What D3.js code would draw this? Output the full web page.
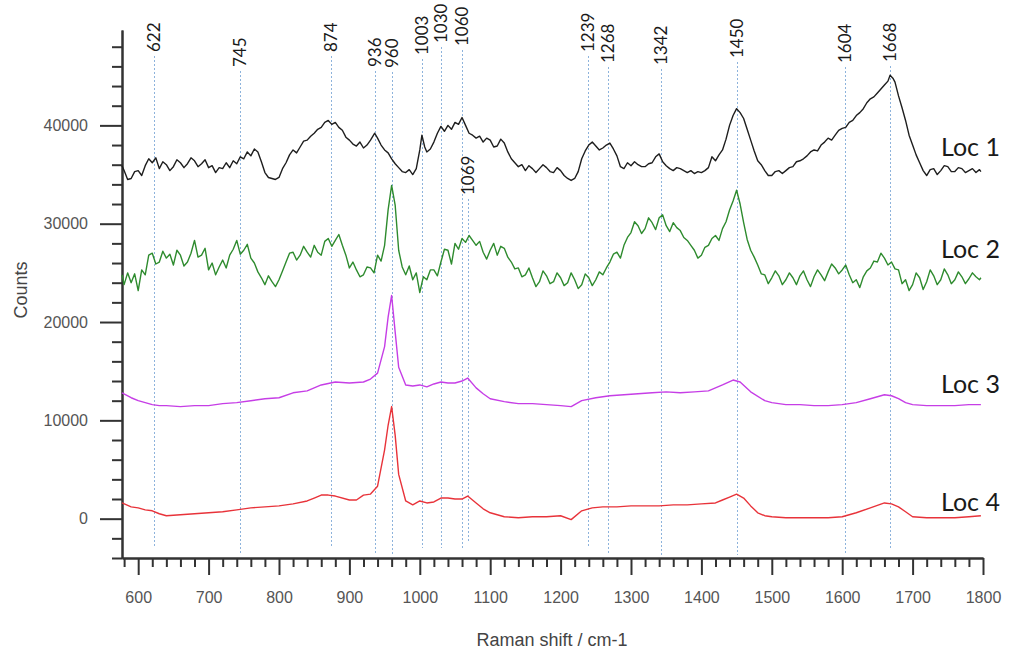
<!DOCTYPE html>
<html>
<head>
<meta charset="utf-8">
<script src="https://cdn.jsdelivr.net/npm/d3@7"></script>
<style>
  body { margin: 0; background: #fff; }
  svg { display: block; }
</style>
</head>
<body>
<svg></svg>
<script>
// SVG
var width = 1010;
var height = 654;

// Data: Raman spectra, [shift cm-1, counts]
var loc1 = [[577,35900],[580,35400],[585,34500],[590,34600],[595,35300],[600,35400],[605,34900],[610,35900],[615,36600],[620,36200],[625,36700],[630,35600],[635,36300],[640,36000],[645,35400],[650,35800],[655,36500],[660,36200],[665,35700],[670,36100],[675,36700],[680,36400],[685,35800],[690,36100],[695,36500],[700,35700],[705,35900],[710,35200],[715,35700],[720,35600],[725,36200],[730,35700],[735,36400],[740,36100],[745,36800],[750,36600],[755,37300],[760,36900],[765,37600],[770,37300],[775,36300],[780,35200],[785,34700],[790,34600],[795,34500],[800,34700],[805,35600],[810,36200],[815,37000],[820,37500],[825,37200],[830,37800],[835,38400],[840,38500],[845,38900],[850,39200],[855,39600],[860,39800],[865,40300],[870,40500],[875,40100],[880,40300],[885,39800],[890,39500],[895,38800],[900,38500],[905,38100],[910,37900],[915,38300],[920,37700],[925,38000],[930,38500],[936,39200],[940,38700],[945,38000],[950,37500],[955,37200],[960,36600],[965,36100],[970,35700],[975,35300],[980,35200],[985,35500],[990,35000],[995,35600],[1000,37500],[1003,39000],[1007,37800],[1010,37300],[1015,37600],[1020,38300],[1025,39200],[1030,39900],[1035,39400],[1040,40000],[1045,39600],[1050,40300],[1055,40100],[1060,40800],[1065,40000],[1070,39200],[1075,39000],[1080,38700],[1085,38900],[1090,38300],[1095,38700],[1100,38500],[1105,37800],[1110,37900],[1115,38600],[1120,38200],[1125,37300],[1130,36600],[1135,36200],[1140,35800],[1145,36000],[1150,35400],[1155,35900],[1160,35600],[1165,35200],[1170,35600],[1175,36000],[1180,35700],[1185,35300],[1190,35200],[1195,35700],[1200,35400],[1205,34900],[1210,34600],[1215,34400],[1220,34600],[1225,35300],[1230,36600],[1235,37400],[1240,38000],[1245,38300],[1250,37900],[1255,37500],[1260,37700],[1265,38000],[1270,38200],[1275,37600],[1280,36900],[1285,35800],[1290,35600],[1295,36200],[1300,35900],[1305,36300],[1310,36000],[1315,35800],[1320,35800],[1325,36100],[1330,36200],[1335,36800],[1340,37100],[1345,36300],[1350,35900],[1355,35600],[1360,35400],[1365,35700],[1370,35600],[1375,35400],[1380,35200],[1385,35400],[1390,35100],[1395,35300],[1400,35200],[1405,35400],[1410,35700],[1415,36800],[1420,36400],[1425,37000],[1430,37500],[1435,38600],[1440,40000],[1445,41000],[1450,41700],[1455,41300],[1460,40700],[1465,39600],[1470,38500],[1475,37400],[1480,36400],[1485,36000],[1490,35400],[1495,34900],[1500,34900],[1505,35300],[1510,35400],[1515,35100],[1520,35400],[1525,35700],[1530,35800],[1535,36300],[1540,36400],[1545,36600],[1550,36900],[1555,37300],[1560,37500],[1565,37400],[1570,38000],[1575,38300],[1580,38700],[1585,38500],[1590,39000],[1595,39500],[1600,39700],[1605,39800],[1610,40300],[1615,40500],[1620,41000],[1625,41300],[1630,41700],[1635,42300],[1640,42700],[1645,42900],[1650,43300],[1655,43700],[1660,44100],[1665,44500],[1668,45100],[1672,44800],[1675,44400],[1680,43000],[1685,41800],[1690,40500],[1695,39000],[1700,38000],[1705,37000],[1710,36200],[1715,35400],[1720,34900],[1725,35500],[1730,35600],[1735,35000],[1740,35400],[1745,35900],[1750,35800],[1755,35300],[1760,35300],[1765,35700],[1770,35600],[1775,35200],[1780,35400],[1785,35600],[1790,35200],[1795,35500],[1797,35300]];

var loc2 = [[577,24800],[580,23800],[585,25000],[590,24000],[595,24900],[600,23200],[605,25300],[610,24800],[615,26800],[620,27000],[625,25900],[630,26100],[635,27200],[640,26500],[645,26900],[650,25800],[655,27300],[660,26800],[665,25700],[670,26100],[675,27000],[680,28300],[685,26600],[690,26800],[695,27500],[700,25300],[705,26000],[710,24800],[715,25600],[720,26300],[725,25500],[730,26800],[735,27400],[740,28300],[745,26900],[750,27300],[755,27900],[760,26500],[765,26000],[770,25100],[775,24500],[780,23800],[785,24700],[790,24100],[795,23600],[800,24300],[805,25200],[810,26100],[815,27000],[820,27100],[825,26300],[830,26800],[835,27700],[840,27100],[845,26600],[850,27800],[855,27100],[860,26800],[865,28200],[870,28500],[875,27700],[880,28300],[885,28900],[890,27800],[895,26800],[900,25500],[905,26100],[910,25300],[915,24600],[920,24800],[925,25600],[930,25500],[935,25000],[940,26800],[945,26200],[950,27800],[955,31400],[960,33900],[965,31900],[970,27300],[975,25600],[980,24800],[985,25700],[990,24300],[995,25000],[1000,23000],[1005,24600],[1010,24300],[1015,25300],[1020,25300],[1025,24700],[1030,26100],[1035,27400],[1040,27300],[1045,25900],[1050,28000],[1055,27400],[1060,28500],[1065,28100],[1070,28800],[1075,28300],[1080,27800],[1085,28200],[1090,27100],[1095,26400],[1100,27300],[1105,28000],[1110,26800],[1115,27700],[1120,27500],[1125,26600],[1130,26100],[1135,25400],[1140,25500],[1145,24600],[1150,24800],[1155,25500],[1160,24500],[1165,23600],[1170,24100],[1175,25200],[1180,24700],[1185,23900],[1190,24100],[1195,25000],[1200,24500],[1205,23700],[1210,24000],[1215,25000],[1220,24300],[1225,23400],[1230,23800],[1235,24900],[1240,24500],[1245,23700],[1250,24300],[1255,25100],[1260,24800],[1265,25500],[1270,26100],[1275,26900],[1280,27100],[1285,26500],[1290,27800],[1295,28600],[1300,29100],[1305,30200],[1310,29800],[1315,29000],[1320,29500],[1325,30600],[1330,30100],[1335,29400],[1340,30600],[1345,30900],[1350,29800],[1355,29200],[1360,30100],[1365,29600],[1370,29300],[1375,28600],[1380,28300],[1385,27800],[1390,27300],[1395,26500],[1400,26800],[1405,27600],[1410,27800],[1415,28500],[1420,28800],[1425,28300],[1430,29500],[1435,30200],[1440,31400],[1445,32300],[1450,33400],[1455,32000],[1460,30100],[1465,28400],[1470,27300],[1475,26600],[1480,25800],[1485,24900],[1490,24800],[1495,23900],[1500,24500],[1505,25200],[1510,24700],[1515,23800],[1520,24300],[1525,25000],[1530,24500],[1535,23800],[1540,24700],[1545,25200],[1550,24300],[1555,23600],[1560,24600],[1565,25300],[1570,24800],[1575,24200],[1580,25100],[1585,25900],[1590,25500],[1595,24900],[1600,25300],[1605,25800],[1610,24800],[1615,24000],[1620,24300],[1625,23500],[1630,24600],[1635,25200],[1640,25500],[1645,26200],[1650,26100],[1655,27000],[1660,26500],[1665,25800],[1670,26100],[1675,25400],[1680,25300],[1685,23900],[1690,24300],[1695,23200],[1700,23800],[1705,25000],[1710,24500],[1715,23300],[1720,24100],[1725,25300],[1730,24700],[1735,23800],[1740,24300],[1745,25400],[1750,24800],[1755,23900],[1760,24300],[1765,25100],[1770,24600],[1775,23900],[1780,24400],[1785,25000],[1790,24600],[1795,24300],[1797,24500]];

var loc3 = [[577,12800],[590,12300],[600,12000],[610,11800],[620,11600],[630,11500],[640,11500],[660,11400],[680,11500],[700,11500],[720,11700],[740,11800],[760,12000],[780,12200],[800,12300],[820,12800],[840,13000],[860,13600],[880,13900],[900,13800],[920,13900],[930,14200],[940,14800],[950,17500],[955,20500],[960,22700],[965,19000],[970,15400],[980,13600],[990,13500],[1000,13600],[1010,13400],[1020,13700],[1030,13900],[1040,13800],[1050,13800],[1060,14000],[1068,14300],[1080,13300],[1090,12700],[1100,12200],[1120,11900],[1140,11700],[1160,11700],[1180,11600],[1200,11500],[1215,11400],[1230,12000],[1250,12300],[1270,12500],[1290,12600],[1310,12700],[1330,12800],[1350,12900],[1370,12800],[1390,12900],[1410,13000],[1430,13600],[1445,14100],[1455,13900],[1470,12900],[1490,12000],[1500,11800],[1520,11600],[1540,11600],[1560,11500],[1580,11500],[1600,11600],[1620,11800],[1640,12200],[1660,12600],[1670,12500],[1680,12200],[1690,11800],[1700,11600],[1720,11500],[1740,11500],[1760,11500],[1780,11600],[1797,11600]];

var loc4 = [[577,1600],[590,1200],[600,1100],[610,900],[620,800],[630,500],[640,300],[660,400],[680,500],[700,600],[720,700],[740,900],[760,1100],[780,1200],[800,1300],[820,1500],[840,1800],[850,2100],[860,2400],[870,2400],[880,2300],[900,1900],[910,1900],[920,2400],[930,2500],[940,3300],[950,7000],[955,9500],[960,11400],[965,8500],[970,4500],[980,1800],[990,1400],[1000,1800],[1010,1600],[1020,1700],[1030,2100],[1040,2100],[1050,2000],[1060,2000],[1068,2300],[1080,1600],[1090,1000],[1100,600],[1110,400],[1120,200],[1140,100],[1160,200],[1180,200],[1200,300],[1215,-100],[1230,800],[1245,1100],[1260,1200],[1280,1200],[1300,1300],[1320,1300],[1340,1300],[1360,1400],[1380,1400],[1400,1500],[1420,1600],[1430,1900],[1440,2200],[1450,2500],[1460,2100],[1470,1300],[1480,600],[1490,300],[1500,200],[1520,100],[1540,100],[1560,100],[1580,100],[1600,200],[1620,600],[1640,1100],[1660,1600],[1670,1500],[1680,1200],[1690,700],[1700,200],[1720,100],[1740,100],[1760,100],[1780,200],[1797,300]];

var seriesNames = ["Loc 1", "Loc 2", "Loc 3", "Loc 4"];
var peaks = [622, 745, 874, 936, 960, 1003, 1030, 1060, 1069, 1239, 1268, 1342, 1450, 1604, 1668];
var yTicks = [0, 10000, 20000, 30000, 40000];
var xTicks = [600, 700, 800, 900, 1000, 1100, 1200, 1300, 1400, 1500, 1600, 1700, 1800];

// layout (pixels) for peak labels and series labels
var peakLabelBottom = [52, 67, 52, 67, 68, 55, 43, 46, 195, 52, 63, 65, 58, 63, 62];
var peakLineBottom = [547, 555, 548, 555, 555, 548, 548, 548, 542, 548, 555, 555, 555, 555, 548];
var nameBaseline = [156, 258, 393, 511];
var colors = ["#1e1e1e", "#2e8b2e", "#c63ee6", "#e8333a"];

// Scales
var xScale = d3.scaleLinear()
    .domain([577, 1800])
    .range([122, 983]);

var yScale = d3.scaleLinear()
    .domain([-4000, 49700])
    .range([558, 30]);

var svg = d3.select("svg")
    .attr("width", width)
    .attr("height", height)
    .style("font-family", "'Liberation Sans', Arial, sans-serif");

// peak guide lines (dotted blue)
var gx = d => Math.round(xScale(d)) + 0.5;
var guides = svg.append("g");
guides.selectAll("line")
    .data(peaks)
    .join("line")
    .attr("x1", gx)
    .attr("x2", gx)
    .attr("y1", (d, i) => peakLabelBottom[i] + 4)
    .attr("y2", (d, i) => peakLineBottom[i])
    .attr("stroke", "#8db3dc")
    .attr("stroke-width", 1)
    .attr("stroke-dasharray", "2,2");

guides.selectAll("text")
    .data(peaks)
    .join("text")
    .attr("transform", (d, i) => "translate(" + (xScale(d) + 6) + "," + peakLabelBottom[i] + ") rotate(-90)")
    .attr("text-anchor", "start")
    .attr("font-family", "Lato, 'Open Sans', sans-serif")
    .attr("font-size", 17)
    .attr("fill", "#1a1a1a")
    .text(d => d);

// minor ticks
var yMinor = d3.range(-4000, 48001, 2000).filter(v => v % 10000 !== 0);
var xMinor = d3.range(580, 1800, 20).filter(v => v % 100 !== 0);

var yAxis = d3.axisLeft(yScale)
    .tickValues(yTicks)
    .tickFormat(d3.format("d"))
    .tickSize(22)
    .tickPadding(12)
    .tickSizeOuter(0);

var yAxisMinor = d3.axisLeft(yScale)
    .tickValues(yMinor)
    .tickFormat("")
    .tickSize(10)
    .tickSizeOuter(0);

var xAxis = d3.axisBottom(xScale)
    .tickValues(xTicks)
    .tickFormat(d3.format("d"))
    .tickSize(17)
    .tickPadding(17)
    .tickSizeOuter(0);

var xAxisMinor = d3.axisBottom(xScale)
    .tickValues(xMinor)
    .tickFormat("")
    .tickSize(9)
    .tickSizeOuter(0);

function styleAxis(g) {
    g.select(".domain").attr("stroke", "#333").attr("stroke-width", 2);
    g.selectAll(".tick line").attr("stroke", "#333").attr("stroke-width", 2);
    g.selectAll(".tick text")
        .attr("fill", "#555")
        .attr("font-size", 16)
        .attr("font-family", "'Liberation Sans', Arial, sans-serif");
}

svg.append("g")
    .attr("transform", "translate(122,0)")
    .call(yAxisMinor)
    .call(styleAxis);

svg.append("g")
    .attr("transform", "translate(122,0)")
    .call(yAxis)
    .call(styleAxis);

svg.append("g")
    .attr("transform", "translate(0,558)")
    .call(xAxisMinor)
    .call(styleAxis);

svg.append("g")
    .attr("transform", "translate(0,558)")
    .call(xAxis)
    .call(styleAxis);

// axis titles
svg.append("text")
    .attr("x", 552)
    .attr("y", 646)
    .attr("text-anchor", "middle")
    .attr("font-size", 18)
    .attr("fill", "#444")
    .text("Raman shift / cm-1");

svg.append("text")
    .attr("transform", "translate(27,290) rotate(-90)")
    .attr("text-anchor", "middle")
    .attr("font-size", 18)
    .attr("fill", "#444")
    .text("Counts");

// lines
var line = d3.line()
    .x(d => xScale(d[0]))
    .y(d => yScale(d[1]));

var allSeries = [loc1, loc2, loc3, loc4];

svg.append("g")
    .selectAll("path")
    .data(allSeries)
    .join("path")
    .attr("fill", "none")
    .attr("stroke", (d, i) => colors[i])
    .attr("stroke-width", 1.4)
    .attr("stroke-linejoin", "round")
    .attr("d", line);

// series names
svg.append("g")
    .selectAll("text")
    .data(seriesNames)
    .join("text")
    .attr("x", 941)
    .attr("y", (d, i) => nameBaseline[i])
    .attr("font-family", "Lato, 'Open Sans', sans-serif")
    .attr("font-size", 25)
    .attr("fill", "#1a1a1a")
    .text(d => d);
</script>
</body>
</html>
